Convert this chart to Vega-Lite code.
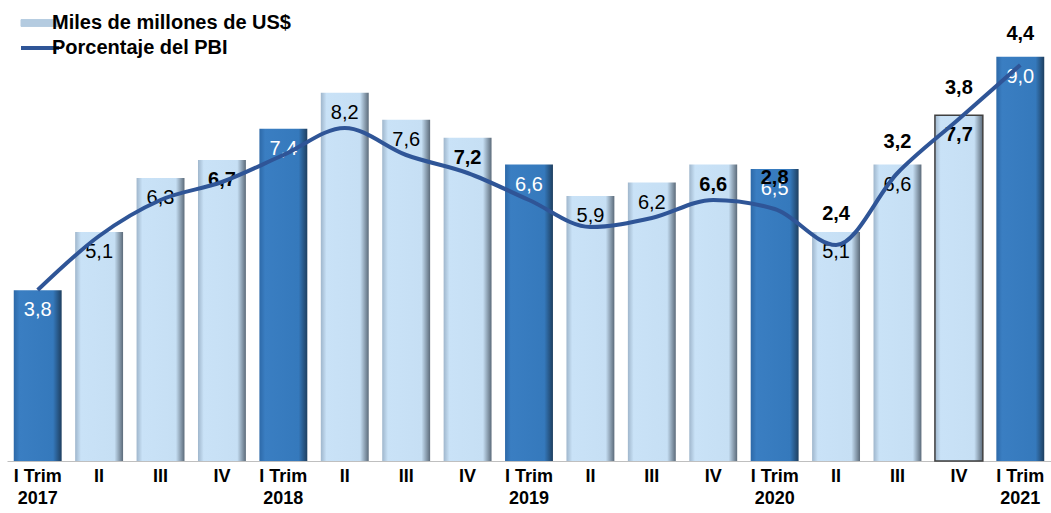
{
  "$schema": "https://vega.github.io/schema/vega-lite/v6.json",
  "width": 1044,
  "height": 441,
  "autosize": {"type": "none"},
  "padding": {"left": 7, "top": 20, "right": 0, "bottom": 52},
  "config": {
    "view": {"stroke": null},
    "font": "Liberation Sans"
  },
  "data": {
    "values": [
      {"periodo": "I Trim 2017", "trim": "I Trim", "anio": 2017, "monto": 3.8, "pbi": 1.9},
      {"periodo": "II 2017", "trim": "II", "anio": 2017, "monto": 5.1, "pbi": 2.5},
      {"periodo": "III 2017", "trim": "III", "anio": 2017, "monto": 6.3, "pbi": 2.9},
      {"periodo": "IV 2017", "trim": "IV", "anio": 2017, "monto": 6.7, "pbi": 3.1},
      {"periodo": "I Trim 2018", "trim": "I Trim", "anio": 2018, "monto": 7.4, "pbi": 3.4},
      {"periodo": "II 2018", "trim": "II", "anio": 2018, "monto": 8.2, "pbi": 3.7},
      {"periodo": "III 2018", "trim": "III", "anio": 2018, "monto": 7.6, "pbi": 3.4},
      {"periodo": "IV 2018", "trim": "IV", "anio": 2018, "monto": 7.2, "pbi": 3.2},
      {"periodo": "I Trim 2019", "trim": "I Trim", "anio": 2019, "monto": 6.6, "pbi": 2.9},
      {"periodo": "II 2019", "trim": "II", "anio": 2019, "monto": 5.9, "pbi": 2.6},
      {"periodo": "III 2019", "trim": "III", "anio": 2019, "monto": 6.2, "pbi": 2.7},
      {"periodo": "IV 2019", "trim": "IV", "anio": 2019, "monto": 6.6, "pbi": 2.9},
      {"periodo": "I Trim 2020", "trim": "I Trim", "anio": 2020, "monto": 6.5, "pbi": 2.8},
      {"periodo": "II 2020", "trim": "II", "anio": 2020, "monto": 5.1, "pbi": 2.4},
      {"periodo": "III 2020", "trim": "III", "anio": 2020, "monto": 6.6, "pbi": 3.2},
      {"periodo": "IV 2020", "trim": "IV", "anio": 2020, "monto": 7.7, "pbi": 3.8},
      {"periodo": "I Trim 2021", "trim": "I Trim", "anio": 2021, "monto": 9.0, "pbi": 4.4}
    ]
  },
  "transform": [
    {"calculate": "replace(format(datum.monto, '.1f'), '.', ',')", "as": "monto_txt"},
    {"calculate": "replace(format(datum.pbi, '.1f'), '.', ',')", "as": "pbi_txt"}
  ],
  "encoding": {
    "x": {
      "field": "periodo",
      "type": "ordinal",
      "sort": ["I Trim 2017", "II 2017", "III 2017", "IV 2017", "I Trim 2018", "II 2018", "III 2018", "IV 2018", "I Trim 2019", "II 2019", "III 2019", "IV 2019", "I Trim 2020", "II 2020", "III 2020", "IV 2020", "I Trim 2021"],
      "scale": {"paddingInner": 0.22, "paddingOuter": 0.11},
      "axis": {
        "title": null,
        "labelAngle": 0,
        "labelExpr": "indexof(datum.value, 'Trim') > 0 ? ['I Trim', slice(datum.value, 7)] : split(datum.value, ' ')[0]",
        "labelFontSize": 18,
        "labelFontWeight": "bold",
        "labelColor": "#000000",
        "labelLineHeight": 22,
        "labelPadding": 6,
        "labelBaseline": "top",
        "domainColor": "#BFBFBF",
        "ticks": false
      }
    }
  },
  "layer": [
    {
      "encoding": {
        "y": {"field": "monto", "type": "quantitative", "scale": {"domain": [0, 9.82], "nice": false}, "axis": null}
      },
      "layer": [
        {
          "transform": [{"filter": "datum.trim == 'I Trim'"}],
          "mark": {
            "type": "bar",
            "color": {
              "gradient": "linear", "x1": 0, "y1": 0, "x2": 1, "y2": 0,
              "stops": [
                {"offset": 0, "color": "#2D69A8"},
                {"offset": 0.12, "color": "#3A7EC2"},
                {"offset": 0.82, "color": "#3579BC"},
                {"offset": 1, "color": "#1E3F60"}
              ]
            }
          }
        },
        {
          "transform": [{"filter": "datum.trim != 'I Trim'"}],
          "mark": {
            "type": "bar",
            "color": {
              "gradient": "linear", "x1": 0, "y1": 0, "x2": 1, "y2": 0,
              "stops": [
                {"offset": 0, "color": "#9FB6CC"},
                {"offset": 0.12, "color": "#C9E2F7"},
                {"offset": 0.82, "color": "#C6DFF4"},
                {"offset": 1, "color": "#5C6B7A"}
              ]
            }
          }
        },
        {
          "transform": [{"filter": "datum.periodo == 'IV 2020'"}],
          "mark": {"type": "bar", "fillOpacity": 0, "stroke": "#404040", "strokeWidth": 1.5}
        },
        {
          "transform": [{"filter": "datum.trim != 'IV'"}],
          "mark": {"type": "text", "baseline": "middle", "dy": 20, "fontSize": 20},
          "encoding": {
            "text": {"field": "monto_txt", "type": "nominal"},
            "color": {
              "condition": {"test": "datum.trim == 'I Trim'", "value": "#FFFFFF"},
              "value": "#000000"
            }
          }
        },
        {
          "transform": [{"filter": "datum.trim == 'IV'"}],
          "mark": {"type": "text", "baseline": "middle", "dy": 20, "fontSize": 20, "fontWeight": "bold", "color": "#000000"},
          "encoding": {
            "text": {"field": "monto_txt", "type": "nominal"}
          }
        }
      ]
    },
    {
      "encoding": {
        "y": {"field": "pbi", "type": "quantitative", "scale": {"domain": [0, 4.9], "nice": false}, "axis": null}
      },
      "layer": [
        {
          "mark": {"type": "line", "interpolate": "monotone", "strokeWidth": 4},
          "encoding": {
            "color": {
              "datum": "Porcentaje del PBI",
              "type": "nominal",
              "scale": {"domain": ["Miles de millones de US$", "Porcentaje del PBI"], "range": ["#B4CBE0", "#2F5597"]},
              "legend": {
                "title": null,
                "orient": "none",
                "legendX": 23,
                "legendY": -7,
                "padding": 0,
                "rowPadding": 5,
                "symbolSize": 1444,
                "labelFontSize": 20,
                "labelFontWeight": "bold",
                "labelColor": "#000000",
                "labelOffset": 2,
                "labelLimit": 400,
                "encode": {
                  "symbols": {
                    "update": {
                      "shape": {"signal": "datum.value == 'Porcentaje del PBI' ? 'stroke' : 'M-1,-0.18H1V0.18H-1Z'"},
                      "fill": {"signal": "datum.value == 'Porcentaje del PBI' ? 'transparent' : '#B4CBE0'"},
                      "stroke": {"signal": "datum.value == 'Porcentaje del PBI' ? '#2F5597' : '#7F95AA'"},
                      "strokeWidth": {"signal": "datum.value == 'Porcentaje del PBI' ? 4 : 1"},
                      "opacity": {"value": 1}
                    }
                  }
                }
              }
            }
          }
        },
        {
          "transform": [{"filter": "datum.anio >= 2020"}],
          "mark": {"type": "text", "baseline": "middle", "dy": -31, "fontSize": 20, "fontWeight": "bold", "color": "#000000"},
          "encoding": {
            "text": {"field": "pbi_txt", "type": "nominal"}
          }
        }
      ]
    }
  ],
  "resolve": {"scale": {"y": "independent"}}
}
